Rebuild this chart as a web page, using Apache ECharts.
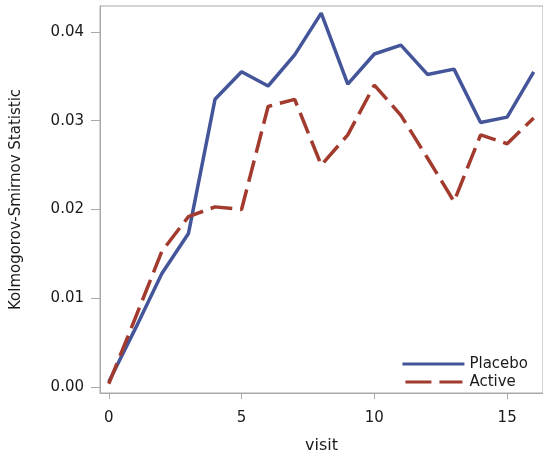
<!DOCTYPE html>
<html>
<head>
<meta charset="utf-8">
<style>
  html, body { margin: 0; padding: 0; background: #ffffff; }
  #chart { width: 543px; height: 452px; }
</style>
<script src="https://cdn.jsdelivr.net/npm/echarts@6/dist/echarts.min.js"></script>
</head>
<body>
<div id="chart"></div>
<script>
// Visits on the x axis
const visits = [0, 1, 2, 3, 4, 5, 6, 7, 8, 9, 10, 11, 12, 13, 14, 15, 16];

// Kolmogorov-Smirnov statistic per visit
const placebo = [0.0006, 0.0066, 0.0128, 0.0173, 0.0324, 0.0355, 0.0339, 0.0374, 0.0421, 0.0341, 0.0375, 0.0385, 0.0352, 0.0358, 0.0298, 0.0304, 0.0355];
const active  = [0.0004, 0.0078, 0.0153, 0.0192, 0.0203, 0.0200, 0.0316, 0.0324, 0.0250, 0.0284, 0.0340, 0.0306, 0.0258, 0.0209, 0.0284, 0.0274, 0.0303];

// Tick positions
const xTicks = [0, 5, 10, 15];
const yTicks = [0, 0.01, 0.02, 0.03, 0.04];

const FONT = 'DejaVu Sans';
const AXIS_GRAY = '#a9a9a9';
const TEXT = '#1a1a1a';

// Legend keys: a solid bar and a two-dash bar
const SOLID_KEY = 'path://M0,0H62V3H0Z';
const DASH_KEY = 'path://M3,0H29V3H3Z M37,0H60V3H37Z M0,0H0.01V0.01H0Z M62,0H61.99V0.01H62Z';

const chart = echarts.init(document.getElementById('chart'), null, { renderer: 'canvas' });

chart.setOption({
  animation: false,
  backgroundColor: '#ffffff',
  grid: {
    left: 100, top: 6, right: 0, bottom: 59,
    outerBoundsMode: 'none',
    containLabel: false,
    show: true, borderColor: AXIS_GRAY, borderWidth: 1, backgroundColor: 'transparent'
  },
  legend: {
    orient: 'vertical',
    right: 10,
    top: 350,
    itemWidth: 62,
    itemHeight: 3,
    itemGap: 0,
    textStyle: { fontFamily: FONT, fontSize: 15, color: TEXT, lineHeight: 18 },
    data: [
      { name: 'Placebo', icon: SOLID_KEY },
      { name: 'Active', icon: DASH_KEY }
    ]
  },
  xAxis: {
    type: 'value',
    min: -0.33,
    max: 16.35,
    name: 'visit',
    nameLocation: 'middle',
    nameGap: 45,
    nameTextStyle: { fontFamily: FONT, fontSize: 16, color: TEXT },
    axisLine: { show: true, onZero: false, lineStyle: { color: AXIS_GRAY, width: 1 } },
    axisTick: { show: true, length: 6, customValues: xTicks, lineStyle: { color: AXIS_GRAY } },
    axisLabel: { customValues: xTicks, margin: 18, fontFamily: FONT, fontSize: 15, color: TEXT },
    splitLine: { show: false }
  },
  yAxis: {
    type: 'value',
    min: -0.00064,
    max: 0.0429,
    name: 'Kolmogorov-Smirnov Statistic',
    nameLocation: 'middle',
    nameGap: 76,
    nameTextStyle: { fontFamily: FONT, fontSize: 15, color: TEXT },
    axisLine: { show: true, onZero: false, lineStyle: { color: AXIS_GRAY, width: 1 } },
    axisTick: { show: true, length: 9, customValues: yTicks, lineStyle: { color: AXIS_GRAY } },
    axisLabel: {
      customValues: yTicks, margin: 16, fontFamily: FONT, fontSize: 15, color: TEXT,
      formatter: v => v.toFixed(2)
    },
    splitLine: { show: false }
  },
  series: [
    {
      name: 'Placebo',
      type: 'line',
      symbol: 'none',
      color: '#44559a',
      lineStyle: { color: '#44559a', width: 3.5 },
      data: visits.map((v, i) => [v, placebo[i]])
    },
    {
      name: 'Active',
      type: 'line',
      symbol: 'none',
      color: '#a23a2e',
      lineStyle: { color: '#a23a2e', width: 3.5, type: [22, 8] },
      data: visits.map((v, i) => [v, active[i]])
    }
  ]
});
</script>
</body>
</html>
